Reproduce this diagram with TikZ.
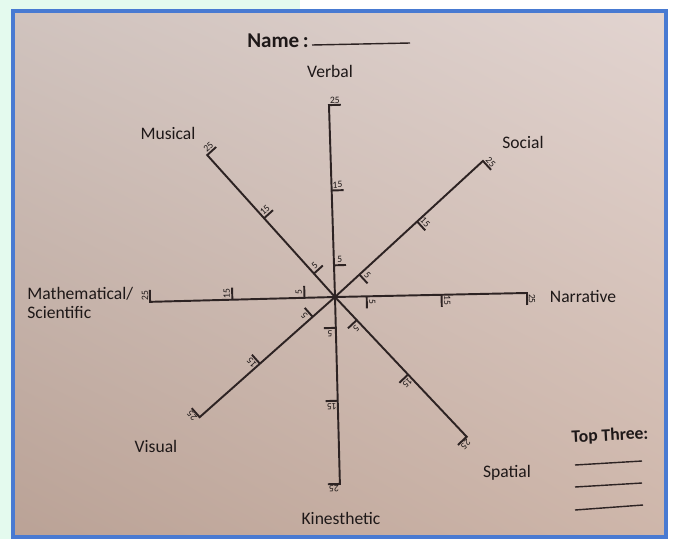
\documentclass[tikz,border=0pt]{standalone}
\usepackage{fontspec}
\usetikzlibrary{shadings}
\setmainfont{Carlito}
\definecolor{ink}{RGB}{45,35,35}
\definecolor{txt}{RGB}{30,24,24}
\definecolor{frameblue}{RGB}{72,122,210}
\definecolor{mint}{RGB}{228,250,238}
\definecolor{pUL}{RGB}{208,195,190}
\definecolor{pUR}{RGB}{226,212,208}
\definecolor{pLL}{RGB}{186,162,150}
\definecolor{pLR}{RGB}{206,182,170}
\tikzset{
  spk/.style={draw=ink, line width=1.1pt},
  tlab/.style={font=\fontsize{5.5}{5.5}\selectfont, text=txt, inner sep=0.8pt, anchor=south},
  lab/.style={font=\fontsize{10}{11}\selectfont, text=txt, inner sep=0pt},
  blab/.style={font=\bfseries\fontsize{10}{11}\selectfont, text=txt, inner sep=0pt},
  wline/.style={draw=ink, line width=0.8pt}
}
\newcommand\myspoke[3]{% angle, length, name
  \begin{scope}[shift={(c)}, rotate=#1-90]
    \coordinate (e#3) at (0,#2);
    \draw[spk, line join=miter] (0,0) -- (e#3) -- ++(12,0);
    \foreach \f/\t in {0.165/5, 0.555/15}
      \draw[spk] (0,\f*#2) -- ++(12,0) node[tlab, midway, rotate=#1-90] {\t};
    \node[tlab, rotate=#1-90] (l#3) at (6,#2) {25};
  \end{scope}}
\begin{document}
\begin{tikzpicture}[x=0.02cm, y=0.02cm]
\useasboundingbox (0,0) rectangle (675,539);
% outer background
\fill[white] (0,0) rectangle (675,539);
\fill[mint] (0,0) rectangle (12,539);
\fill[mint] (0,529) rectangle (300,539);
% paper
\shade[upper left=pUL, upper right=pUR, lower left=pLL, lower right=pLR] (13,2) rectangle (666,528);
\draw[frameblue, line width=1.8pt] (13,2) rectangle (666,528);
% centre
\coordinate (c) at (335,242);
\myspoke{91.8}{192}{verbal}
\myspoke{-88.5}{187}{kin}
\myspoke{1.2}{192}{narr}
\myspoke{181.5}{185}{math}
\myspoke{132}{191}{mus}
\myspoke{42.6}{201}{soc}
\myspoke{221.6}{181}{vis}
\myspoke{-46.7}{192}{spa}
% labels
\node[blab, anchor=base east, font=\bfseries\fontsize{12}{13}\selectfont] (name) at (309,492) {Name\,:};
\coordinate (nl) at (410,496);
\draw[wline] (name.base east) ++(3,2) -- (nl);
\node[lab] (tverbal) at (330,468) {Verbal};
\node[lab] (tmus) at (168,406) {Musical};
\node[lab] (tsoc) at (523,397) {Social};
\node[lab, anchor=west, align=left] (tmath) at (27,236) {Mathematical/\\Scientific};
\node[lab] (tnarr) at (583,243) {Narrative};
\node[lab] (tvis) at (156,93) {Visual};
\node[lab] (tspa) at (507,66) {Spatial};
\node[lab] (tkin) at (341,21) {Kinesthetic};
\node[blab, rotate=3] (top) at (610,103) {Top Three:};
\coordinate (a1) at (575,74); \coordinate (b1) at (642,78);
\coordinate (a2) at (575,52); \coordinate (b2) at (642,56);
\coordinate (a3) at (575,29); \coordinate (b3) at (643,34);
\draw[wline] (a1) -- (b1);
\draw[wline] (a2) -- (b2);
\draw[wline] (a3) -- (b3);
\end{tikzpicture}
\end{document}
